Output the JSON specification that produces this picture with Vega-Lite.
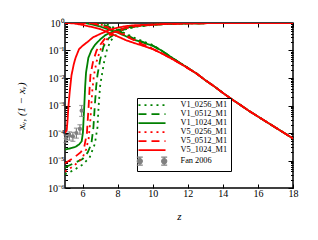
{
"$schema": "https://vega.github.io/schema/vega-lite/v6.json",
"width": 228, "height": 165,
"autosize": {"type": "none"},
"padding": {"left": 65, "top": 23, "right": 25, "bottom": 52},
"config": {
  "font": "Liberation Serif",
  "view": {"stroke": "black", "strokeWidth": 1.5},
  "axis": {"domain": false, "grid": false, "labelFont": "Liberation Serif", "labelFontSize": 10, "labelColor": "black", "tickColor": "black", "tickWidth": 1, "titleFont": "Liberation Serif", "titleFontWeight": "normal", "titleColor": "black", "labelFlush": false, "labelOverlap": false}
},
"datasets": {
"lines": [
{"s":"V1_0256_M1","b":"n","z":5,"v":3.16e-6},{"s":"V1_0256_M1","b":"n","z":5.5,"v":4.47e-6},{"s":"V1_0256_M1","b":"n","z":6,"v":7.08e-6},{"s":"V1_0256_M1","b":"n","z":6.4,"v":1.26e-5},{"s":"V1_0256_M1","b":"n","z":6.7,"v":3.98e-5},{"s":"V1_0256_M1","b":"n","z":6.85,"v":1.58e-4},{"s":"V1_0256_M1","b":"n","z":6.92,"v":1.0e-3},{"s":"V1_0256_M1","b":"n","z":7,"v":5.01e-3},{"s":"V1_0256_M1","b":"n","z":7.1,"v":0.0126},{"s":"V1_0256_M1","b":"n","z":7.25,"v":0.0447},{"s":"V1_0256_M1","b":"n","z":7.4,"v":0.112},{"s":"V1_0256_M1","b":"n","z":7.6,"v":0.224},{"s":"V1_0256_M1","b":"n","z":8,"v":0.417},{"s":"V1_0256_M1","b":"n","z":8.5,"v":0.603},{"s":"V1_0256_M1","b":"n","z":9,"v":0.724},{"s":"V1_0256_M1","b":"n","z":10,"v":0.861},{"s":"V1_0256_M1","b":"n","z":11,"v":0.929},{"s":"V1_0256_M1","b":"n","z":12,"v":0.964},{"s":"V1_0256_M1","b":"n","z":13,"v":0.98},{"s":"V1_0256_M1","b":"n","z":14,"v":0.991},{"s":"V1_0256_M1","b":"n","z":16,"v":0.998},{"s":"V1_0256_M1","b":"n","z":18,"v":0.9993},
{"s":"V1_0256_M1","b":"i","z":5,"v":1.0},{"s":"V1_0256_M1","b":"i","z":6.5,"v":0.99999},{"s":"V1_0256_M1","b":"i","z":7,"v":0.995},{"s":"V1_0256_M1","b":"i","z":7.25,"v":0.955},{"s":"V1_0256_M1","b":"i","z":7.5,"v":0.83},{"s":"V1_0256_M1","b":"i","z":8,"v":0.583},{"s":"V1_0256_M1","b":"i","z":8.5,"v":0.398},{"s":"V1_0256_M1","b":"i","z":9,"v":0.282},{"s":"V1_0256_M1","b":"i","z":9.5,"v":0.209},{"s":"V1_0256_M1","b":"i","z":10,"v":0.158},{"s":"V1_0256_M1","b":"i","z":10.5,"v":0.1},{"s":"V1_0256_M1","b":"i","z":11,"v":0.0603},{"s":"V1_0256_M1","b":"i","z":11.5,"v":0.0372},{"s":"V1_0256_M1","b":"i","z":12,"v":0.0234},{"s":"V1_0256_M1","b":"i","z":12.5,"v":0.0145},{"s":"V1_0256_M1","b":"i","z":13,"v":0.00832},{"s":"V1_0256_M1","b":"i","z":13.5,"v":0.00501},{"s":"V1_0256_M1","b":"i","z":14,"v":0.00288},{"s":"V1_0256_M1","b":"i","z":14.5,"v":0.0017},{"s":"V1_0256_M1","b":"i","z":15,"v":0.00105},{"s":"V1_0256_M1","b":"i","z":15.5,"v":6.31e-4},{"s":"V1_0256_M1","b":"i","z":16,"v":3.98e-4},{"s":"V1_0256_M1","b":"i","z":16.5,"v":2.51e-4},{"s":"V1_0256_M1","b":"i","z":17,"v":1.58e-4},{"s":"V1_0256_M1","b":"i","z":17.5,"v":1.0e-4},{"s":"V1_0256_M1","b":"i","z":18,"v":6.31e-5},
{"s":"V1_0512_M1","b":"n","z":5,"v":5.62e-6},{"s":"V1_0512_M1","b":"n","z":5.5,"v":7.94e-6},{"s":"V1_0512_M1","b":"n","z":6,"v":1.12e-5},{"s":"V1_0512_M1","b":"n","z":6.3,"v":2.0e-5},{"s":"V1_0512_M1","b":"n","z":6.5,"v":3.98e-5},{"s":"V1_0512_M1","b":"n","z":6.62,"v":1.58e-4},{"s":"V1_0512_M1","b":"n","z":6.7,"v":1.0e-3},{"s":"V1_0512_M1","b":"n","z":6.78,"v":5.01e-3},{"s":"V1_0512_M1","b":"n","z":6.85,"v":0.0126},{"s":"V1_0512_M1","b":"n","z":7,"v":0.0447},{"s":"V1_0512_M1","b":"n","z":7.2,"v":0.141},{"s":"V1_0512_M1","b":"n","z":7.5,"v":0.282},{"s":"V1_0512_M1","b":"n","z":8,"v":0.468},{"s":"V1_0512_M1","b":"n","z":8.5,"v":0.631},{"s":"V1_0512_M1","b":"n","z":9,"v":0.741},{"s":"V1_0512_M1","b":"n","z":10,"v":0.871},{"s":"V1_0512_M1","b":"n","z":11,"v":0.933},{"s":"V1_0512_M1","b":"n","z":12,"v":0.966},{"s":"V1_0512_M1","b":"n","z":13,"v":0.982},{"s":"V1_0512_M1","b":"n","z":14,"v":0.991},{"s":"V1_0512_M1","b":"n","z":16,"v":0.998},{"s":"V1_0512_M1","b":"n","z":18,"v":0.9993},
{"s":"V1_0512_M1","b":"i","z":5,"v":1.0},{"s":"V1_0512_M1","b":"i","z":6.5,"v":0.99996},{"s":"V1_0512_M1","b":"i","z":6.8,"v":0.995},{"s":"V1_0512_M1","b":"i","z":7,"v":0.955},{"s":"V1_0512_M1","b":"i","z":7.5,"v":0.718},{"s":"V1_0512_M1","b":"i","z":8,"v":0.532},{"s":"V1_0512_M1","b":"i","z":8.5,"v":0.372},{"s":"V1_0512_M1","b":"i","z":9,"v":0.257},{"s":"V1_0512_M1","b":"i","z":9.5,"v":0.2},{"s":"V1_0512_M1","b":"i","z":10,"v":0.151},{"s":"V1_0512_M1","b":"i","z":10.5,"v":0.1},{"s":"V1_0512_M1","b":"i","z":11,"v":0.0603},{"s":"V1_0512_M1","b":"i","z":11.5,"v":0.0372},{"s":"V1_0512_M1","b":"i","z":12,"v":0.0234},{"s":"V1_0512_M1","b":"i","z":12.5,"v":0.0145},{"s":"V1_0512_M1","b":"i","z":13,"v":0.00832},{"s":"V1_0512_M1","b":"i","z":13.5,"v":0.00501},{"s":"V1_0512_M1","b":"i","z":14,"v":0.00288},{"s":"V1_0512_M1","b":"i","z":14.5,"v":0.0017},{"s":"V1_0512_M1","b":"i","z":15,"v":0.00105},{"s":"V1_0512_M1","b":"i","z":15.5,"v":6.31e-4},{"s":"V1_0512_M1","b":"i","z":16,"v":3.98e-4},{"s":"V1_0512_M1","b":"i","z":16.5,"v":2.51e-4},{"s":"V1_0512_M1","b":"i","z":17,"v":1.58e-4},{"s":"V1_0512_M1","b":"i","z":17.5,"v":1.0e-4},{"s":"V1_0512_M1","b":"i","z":18,"v":6.31e-5},
{"s":"V1_1024_M1","b":"n","z":5,"v":2.51e-5},{"s":"V1_1024_M1","b":"n","z":5.3,"v":2.75e-5},{"s":"V1_1024_M1","b":"n","z":5.6,"v":3.16e-5},{"s":"V1_1024_M1","b":"n","z":5.8,"v":3.8e-5},{"s":"V1_1024_M1","b":"n","z":5.95,"v":5.01e-5},{"s":"V1_1024_M1","b":"n","z":6.02,"v":1.0e-4},{"s":"V1_1024_M1","b":"n","z":6.06,"v":3.16e-4},{"s":"V1_1024_M1","b":"n","z":6.1,"v":1.0e-3},{"s":"V1_1024_M1","b":"n","z":6.15,"v":5.01e-3},{"s":"V1_1024_M1","b":"n","z":6.2,"v":0.0158},{"s":"V1_1024_M1","b":"n","z":6.33,"v":0.0537},{"s":"V1_1024_M1","b":"n","z":6.5,"v":0.1},{"s":"V1_1024_M1","b":"n","z":6.7,"v":0.158},{"s":"V1_1024_M1","b":"n","z":7,"v":0.251},{"s":"V1_1024_M1","b":"n","z":7.3,"v":0.363},{"s":"V1_1024_M1","b":"n","z":7.6,"v":0.447},{"s":"V1_1024_M1","b":"n","z":8,"v":0.55},{"s":"V1_1024_M1","b":"n","z":8.5,"v":0.676},{"s":"V1_1024_M1","b":"n","z":9,"v":0.776},{"s":"V1_1024_M1","b":"n","z":10,"v":0.871},{"s":"V1_1024_M1","b":"n","z":11,"v":0.938},{"s":"V1_1024_M1","b":"n","z":12,"v":0.968},{"s":"V1_1024_M1","b":"n","z":13,"v":0.982},{"s":"V1_1024_M1","b":"n","z":14,"v":0.991},{"s":"V1_1024_M1","b":"n","z":16,"v":0.998},{"s":"V1_1024_M1","b":"n","z":18,"v":0.9993},
{"s":"V1_1024_M1","b":"i","z":5,"v":0.99997},{"s":"V1_1024_M1","b":"i","z":6,"v":0.9995},{"s":"V1_1024_M1","b":"i","z":6.2,"v":0.984},{"s":"V1_1024_M1","b":"i","z":6.5,"v":0.9},{"s":"V1_1024_M1","b":"i","z":7,"v":0.749},{"s":"V1_1024_M1","b":"i","z":7.5,"v":0.575},{"s":"V1_1024_M1","b":"i","z":8,"v":0.45},{"s":"V1_1024_M1","b":"i","z":8.5,"v":0.324},{"s":"V1_1024_M1","b":"i","z":9,"v":0.24},{"s":"V1_1024_M1","b":"i","z":9.5,"v":0.19},{"s":"V1_1024_M1","b":"i","z":10,"v":0.148},{"s":"V1_1024_M1","b":"i","z":10.5,"v":0.1},{"s":"V1_1024_M1","b":"i","z":11,"v":0.0603},{"s":"V1_1024_M1","b":"i","z":11.5,"v":0.0372},{"s":"V1_1024_M1","b":"i","z":12,"v":0.0234},{"s":"V1_1024_M1","b":"i","z":12.5,"v":0.0145},{"s":"V1_1024_M1","b":"i","z":13,"v":0.00832},{"s":"V1_1024_M1","b":"i","z":13.5,"v":0.00501},{"s":"V1_1024_M1","b":"i","z":14,"v":0.00288},{"s":"V1_1024_M1","b":"i","z":14.5,"v":0.0017},{"s":"V1_1024_M1","b":"i","z":15,"v":0.00105},{"s":"V1_1024_M1","b":"i","z":15.5,"v":6.31e-4},{"s":"V1_1024_M1","b":"i","z":16,"v":3.98e-4},{"s":"V1_1024_M1","b":"i","z":16.5,"v":2.51e-4},{"s":"V1_1024_M1","b":"i","z":17,"v":1.58e-4},{"s":"V1_1024_M1","b":"i","z":17.5,"v":1.0e-4},{"s":"V1_1024_M1","b":"i","z":18,"v":6.31e-5},
{"s":"V5_0256_M1","b":"n","z":5,"v":3.98e-6},{"s":"V5_0256_M1","b":"n","z":5.5,"v":6.31e-6},{"s":"V5_0256_M1","b":"n","z":6,"v":1.26e-5},{"s":"V5_0256_M1","b":"n","z":6.2,"v":2.51e-5},{"s":"V5_0256_M1","b":"n","z":6.35,"v":6.31e-5},{"s":"V5_0256_M1","b":"n","z":6.45,"v":3.16e-4},{"s":"V5_0256_M1","b":"n","z":6.5,"v":1.0e-3},{"s":"V5_0256_M1","b":"n","z":6.55,"v":3.16e-3},{"s":"V5_0256_M1","b":"n","z":6.65,"v":0.0126},{"s":"V5_0256_M1","b":"n","z":6.8,"v":0.0398},{"s":"V5_0256_M1","b":"n","z":7,"v":0.1},{"s":"V5_0256_M1","b":"n","z":7.2,"v":0.178},{"s":"V5_0256_M1","b":"n","z":7.5,"v":0.316},{"s":"V5_0256_M1","b":"n","z":8,"v":0.501},{"s":"V5_0256_M1","b":"n","z":8.5,"v":0.646},{"s":"V5_0256_M1","b":"n","z":9,"v":0.759},{"s":"V5_0256_M1","b":"n","z":10,"v":0.871},{"s":"V5_0256_M1","b":"n","z":11,"v":0.933},{"s":"V5_0256_M1","b":"n","z":12,"v":0.964},{"s":"V5_0256_M1","b":"n","z":13,"v":0.98},{"s":"V5_0256_M1","b":"n","z":14,"v":0.991},{"s":"V5_0256_M1","b":"n","z":16,"v":0.998},{"s":"V5_0256_M1","b":"n","z":18,"v":0.9993},
{"s":"V5_0256_M1","b":"i","z":5,"v":1.0},{"s":"V5_0256_M1","b":"i","z":6.5,"v":0.999},{"s":"V5_0256_M1","b":"i","z":6.8,"v":0.96},{"s":"V5_0256_M1","b":"i","z":7,"v":0.9},{"s":"V5_0256_M1","b":"i","z":7.5,"v":0.684},{"s":"V5_0256_M1","b":"i","z":8,"v":0.5},{"s":"V5_0256_M1","b":"i","z":8.5,"v":0.354},{"s":"V5_0256_M1","b":"i","z":9,"v":0.24},{"s":"V5_0256_M1","b":"i","z":9.5,"v":0.166},{"s":"V5_0256_M1","b":"i","z":10,"v":0.117},{"s":"V5_0256_M1","b":"i","z":10.5,"v":0.0794},{"s":"V5_0256_M1","b":"i","z":11,"v":0.0537},{"s":"V5_0256_M1","b":"i","z":11.5,"v":0.0355},{"s":"V5_0256_M1","b":"i","z":12,"v":0.0229},{"s":"V5_0256_M1","b":"i","z":12.5,"v":0.0145},{"s":"V5_0256_M1","b":"i","z":13,"v":0.00832},{"s":"V5_0256_M1","b":"i","z":13.5,"v":0.00501},{"s":"V5_0256_M1","b":"i","z":14,"v":0.00288},{"s":"V5_0256_M1","b":"i","z":14.5,"v":0.0017},{"s":"V5_0256_M1","b":"i","z":15,"v":0.00105},{"s":"V5_0256_M1","b":"i","z":15.5,"v":6.31e-4},{"s":"V5_0256_M1","b":"i","z":16,"v":3.98e-4},{"s":"V5_0256_M1","b":"i","z":16.5,"v":2.51e-4},{"s":"V5_0256_M1","b":"i","z":17,"v":1.58e-4},{"s":"V5_0256_M1","b":"i","z":17.5,"v":1.0e-4},{"s":"V5_0256_M1","b":"i","z":18,"v":6.31e-5},
{"s":"V5_0512_M1","b":"n","z":5,"v":7.94e-6},{"s":"V5_0512_M1","b":"n","z":5.5,"v":1.26e-5},{"s":"V5_0512_M1","b":"n","z":5.9,"v":2.0e-5},{"s":"V5_0512_M1","b":"n","z":6.1,"v":3.16e-5},{"s":"V5_0512_M1","b":"n","z":6.25,"v":1.0e-4},{"s":"V5_0512_M1","b":"n","z":6.3,"v":3.16e-4},{"s":"V5_0512_M1","b":"n","z":6.35,"v":1.0e-3},{"s":"V5_0512_M1","b":"n","z":6.4,"v":3.98e-3},{"s":"V5_0512_M1","b":"n","z":6.45,"v":0.0126},{"s":"V5_0512_M1","b":"n","z":6.6,"v":0.0398},{"s":"V5_0512_M1","b":"n","z":6.8,"v":0.1},{"s":"V5_0512_M1","b":"n","z":7,"v":0.158},{"s":"V5_0512_M1","b":"n","z":7.3,"v":0.282},{"s":"V5_0512_M1","b":"n","z":7.6,"v":0.398},{"s":"V5_0512_M1","b":"n","z":8,"v":0.537},{"s":"V5_0512_M1","b":"n","z":8.5,"v":0.676},{"s":"V5_0512_M1","b":"n","z":9,"v":0.776},{"s":"V5_0512_M1","b":"n","z":10,"v":0.871},{"s":"V5_0512_M1","b":"n","z":11,"v":0.938},{"s":"V5_0512_M1","b":"n","z":12,"v":0.966},{"s":"V5_0512_M1","b":"n","z":13,"v":0.982},{"s":"V5_0512_M1","b":"n","z":14,"v":0.991},{"s":"V5_0512_M1","b":"n","z":16,"v":0.998},{"s":"V5_0512_M1","b":"n","z":18,"v":0.9993},
{"s":"V5_0512_M1","b":"i","z":5,"v":1.0},{"s":"V5_0512_M1","b":"i","z":6,"v":0.99997},{"s":"V5_0512_M1","b":"i","z":6.3,"v":0.9997},{"s":"V5_0512_M1","b":"i","z":6.5,"v":0.98},{"s":"V5_0512_M1","b":"i","z":7,"v":0.842},{"s":"V5_0512_M1","b":"i","z":7.5,"v":0.645},{"s":"V5_0512_M1","b":"i","z":8,"v":0.463},{"s":"V5_0512_M1","b":"i","z":8.5,"v":0.324},{"s":"V5_0512_M1","b":"i","z":9,"v":0.224},{"s":"V5_0512_M1","b":"i","z":9.5,"v":0.158},{"s":"V5_0512_M1","b":"i","z":10,"v":0.115},{"s":"V5_0512_M1","b":"i","z":10.5,"v":0.0794},{"s":"V5_0512_M1","b":"i","z":11,"v":0.0537},{"s":"V5_0512_M1","b":"i","z":11.5,"v":0.0355},{"s":"V5_0512_M1","b":"i","z":12,"v":0.0229},{"s":"V5_0512_M1","b":"i","z":12.5,"v":0.0145},{"s":"V5_0512_M1","b":"i","z":13,"v":0.00832},{"s":"V5_0512_M1","b":"i","z":13.5,"v":0.00501},{"s":"V5_0512_M1","b":"i","z":14,"v":0.00288},{"s":"V5_0512_M1","b":"i","z":14.5,"v":0.0017},{"s":"V5_0512_M1","b":"i","z":15,"v":0.00105},{"s":"V5_0512_M1","b":"i","z":15.5,"v":6.31e-4},{"s":"V5_0512_M1","b":"i","z":16,"v":3.98e-4},{"s":"V5_0512_M1","b":"i","z":16.5,"v":2.51e-4},{"s":"V5_0512_M1","b":"i","z":17,"v":1.58e-4},{"s":"V5_0512_M1","b":"i","z":17.5,"v":1.0e-4},{"s":"V5_0512_M1","b":"i","z":18,"v":6.31e-5},
{"s":"V5_1024_M1","b":"n","z":5,"v":1.0e-4},{"s":"V5_1024_M1","b":"n","z":5.1,"v":1.26e-4},{"s":"V5_1024_M1","b":"n","z":5.15,"v":3.16e-4},{"s":"V5_1024_M1","b":"n","z":5.2,"v":1.0e-3},{"s":"V5_1024_M1","b":"n","z":5.27,"v":3.16e-3},{"s":"V5_1024_M1","b":"n","z":5.37,"v":0.0126},{"s":"V5_1024_M1","b":"n","z":5.5,"v":0.0316},{"s":"V5_1024_M1","b":"n","z":5.6,"v":0.0537},{"s":"V5_1024_M1","b":"n","z":5.8,"v":0.112},{"s":"V5_1024_M1","b":"n","z":6,"v":0.148},{"s":"V5_1024_M1","b":"n","z":6.3,"v":0.209},{"s":"V5_1024_M1","b":"n","z":6.6,"v":0.302},{"s":"V5_1024_M1","b":"n","z":7,"v":0.398},{"s":"V5_1024_M1","b":"n","z":7.5,"v":0.55},{"s":"V5_1024_M1","b":"n","z":8,"v":0.676},{"s":"V5_1024_M1","b":"n","z":8.5,"v":0.776},{"s":"V5_1024_M1","b":"n","z":9,"v":0.832},{"s":"V5_1024_M1","b":"n","z":10,"v":0.874},{"s":"V5_1024_M1","b":"n","z":11,"v":0.944},{"s":"V5_1024_M1","b":"n","z":12,"v":0.968},{"s":"V5_1024_M1","b":"n","z":13,"v":0.982},{"s":"V5_1024_M1","b":"n","z":14,"v":0.991},{"s":"V5_1024_M1","b":"n","z":16,"v":0.998},{"s":"V5_1024_M1","b":"n","z":18,"v":0.9993},
{"s":"V5_1024_M1","b":"i","z":5,"v":0.9999},{"s":"V5_1024_M1","b":"i","z":5.5,"v":0.968},{"s":"V5_1024_M1","b":"i","z":6,"v":0.851},{"s":"V5_1024_M1","b":"i","z":6.5,"v":0.724},{"s":"V5_1024_M1","b":"i","z":7,"v":0.603},{"s":"V5_1024_M1","b":"i","z":7.5,"v":0.447},{"s":"V5_1024_M1","b":"i","z":8,"v":0.324},{"s":"V5_1024_M1","b":"i","z":8.5,"v":0.234},{"s":"V5_1024_M1","b":"i","z":9,"v":0.182},{"s":"V5_1024_M1","b":"i","z":9.5,"v":0.145},{"s":"V5_1024_M1","b":"i","z":10,"v":0.112},{"s":"V5_1024_M1","b":"i","z":10.5,"v":0.0794},{"s":"V5_1024_M1","b":"i","z":11,"v":0.0537},{"s":"V5_1024_M1","b":"i","z":11.5,"v":0.0355},{"s":"V5_1024_M1","b":"i","z":12,"v":0.0229},{"s":"V5_1024_M1","b":"i","z":12.5,"v":0.0145},{"s":"V5_1024_M1","b":"i","z":13,"v":0.00832},{"s":"V5_1024_M1","b":"i","z":13.5,"v":0.00501},{"s":"V5_1024_M1","b":"i","z":14,"v":0.00288},{"s":"V5_1024_M1","b":"i","z":14.5,"v":0.0017},{"s":"V5_1024_M1","b":"i","z":15,"v":0.00105},{"s":"V5_1024_M1","b":"i","z":15.5,"v":6.31e-4},{"s":"V5_1024_M1","b":"i","z":16,"v":3.98e-4},{"s":"V5_1024_M1","b":"i","z":16.5,"v":2.51e-4},{"s":"V5_1024_M1","b":"i","z":17,"v":1.58e-4},{"s":"V5_1024_M1","b":"i","z":17.5,"v":1.0e-4},{"s":"V5_1024_M1","b":"i","z":18,"v":6.31e-5}
],
"fan": [
{"z":5.05,"v":6.3e-5,"lo":4.5e-5,"hi":8.5e-5},
{"z":5.25,"v":8.0e-5,"lo":5.5e-5,"hi":1.1e-4},
{"z":5.45,"v":7.5e-5,"lo":5.0e-5,"hi":1.05e-4},
{"z":5.65,"v":1.0e-4,"lo":6.5e-5,"hi":1.5e-4},
{"z":5.85,"v":1.4e-4,"lo":9.0e-5,"hi":2.0e-4},
{"z":5.95,"v":6.5e-4,"lo":4.0e-4,"hi":1.0e-3}
]
},
"resolve": {"axis": {"x": "independent", "y": "independent"}},
"layer": [
{
 "data": {"name": "lines"},
 "mark": {"type": "line", "strokeWidth": 1.8, "clip": true},
 "encoding": {
  "x": {"field": "z", "type": "quantitative", "scale": {"domain": [5, 18], "nice": false, "zero": false},
        "axis": {"orient": "bottom", "values": [6,8,10,12,14,16,18], "tickSize": -4, "labelPadding": 4, "title": "z", "titleFontStyle": "italic", "titleFontSize": 11, "titleX": 114, "titleY": 28.7, "titleBaseline": "middle", "titleAlign": "center"}},
  "y": {"field": "v", "type": "quantitative", "scale": {"type": "log", "domain": [1e-6, 1], "nice": false},
        "axis": {"orient": "left",
          "values": [1e-6,2e-6,3e-6,4e-6,5e-6,6e-6,7e-6,8e-6,9e-6,1e-5,2e-5,3e-5,4e-5,5e-5,6e-5,7e-5,8e-5,9e-5,1e-4,2e-4,3e-4,4e-4,5e-4,6e-4,7e-4,8e-4,9e-4,1e-3,2e-3,3e-3,4e-3,5e-3,6e-3,7e-3,8e-3,9e-3,0.01,0.02,0.03,0.04,0.05,0.06,0.07,0.08,0.09,0.1,0.2,0.3,0.4,0.5,0.6,0.7,0.8,0.9,1],
          "tickSize": {"condition": {"test": "abs(log(datum.value)/LN10 - round(log(datum.value)/LN10)) < 0.001", "value": -5}, "value": -2.5},
          "labelExpr": "abs(log(datum.value)/LN10 - round(log(datum.value)/LN10)) < 0.001 ? '10' + ['⁰','⁻¹','⁻²','⁻³','⁻⁴','⁻⁵','⁻⁶'][-round(log(datum.value)/LN10)] : ''",
          "labelPadding": 6,
          "title": "xᵥ, (1 − xᵥ)", "titleFontStyle": "italic", "titleFontSize": 11, "titleX": -44, "titleY": 82.5, "titleBaseline": "middle", "titleAlign": "center", "titleAngle": 270}},
  "color": {"field": "s", "type": "nominal",
    "scale": {"domain": ["V1_0256_M1","V1_0512_M1","V1_1024_M1","V5_0256_M1","V5_0512_M1","V5_1024_M1","Fan 2006"], "range": ["#008000","#008000","#008000","#ff0000","#ff0000","#ff0000","#808080"]},
    "legend": {"orient": "none", "legendX": 72, "legendY": 75, "title": null, "strokeColor": "black", "fillColor": "white", "padding": 3,
      "symbolType": "M-2.85,0H2.85", "symbolSize": 90, "symbolStrokeWidth": 1.8, "symbolOffset": 7.85, "rowPadding": 0,
      "labelFont": "Liberation Serif", "labelFontSize": 8.3, "labelColor": "black", "labelOffset": 24.4,
      "encode": {"symbols": {"update": {
        "shape": {"signal": "datum.value === 'Fan 2006' ? 'M-2.57,-0.84V0.84M-3.2,-0.84H-1.94M-3.2,0.84H-1.94M2.57,-0.84V0.84M1.94,-0.84H3.2M1.94,0.84H3.2M-3.1,0A0.53,0.53 0 1,0 -2.04,0A0.53,0.53 0 1,0 -3.1,0ZM2.04,0A0.53,0.53 0 1,0 3.1,0A0.53,0.53 0 1,0 2.04,0Z' : 'M-2.85,0H2.85'"},
        "fill": {"signal": "datum.value === 'Fan 2006' ? '#808080' : 'transparent'"},
        "strokeWidth": {"signal": "datum.value === 'Fan 2006' ? 1.2 : 1.8"}
      }}}}},
  "strokeDash": {"field": "s", "type": "nominal",
    "scale": {"domain": ["V1_0256_M1","V1_0512_M1","V1_1024_M1","V5_0256_M1","V5_0512_M1","V5_1024_M1","Fan 2006"], "range": [[2,4],[8,5],[1,0],[2,4],[8,5],[1,0],[1,0]]}},
  "detail": {"field": "b"}
 }
},
{
 "data": {"name": "fan"},
 "mark": {"type": "rule", "color": "#808080", "strokeWidth": 1.2},
 "encoding": {"x": {"field": "z", "type": "quantitative", "axis": null}, "y": {"field": "lo", "type": "quantitative", "axis": null}, "y2": {"field": "hi"}}
},
{
 "data": {"name": "fan"},
 "mark": {"type": "tick", "orient": "horizontal", "color": "#808080", "size": 5, "thickness": 1.2},
 "encoding": {"x": {"field": "z", "type": "quantitative", "axis": null}, "y": {"field": "lo", "type": "quantitative", "axis": null}}
},
{
 "data": {"name": "fan"},
 "mark": {"type": "tick", "orient": "horizontal", "color": "#808080", "size": 5, "thickness": 1.2},
 "encoding": {"x": {"field": "z", "type": "quantitative", "axis": null}, "y": {"field": "hi", "type": "quantitative", "axis": null}}
},
{
 "data": {"name": "fan"},
 "mark": {"type": "point", "filled": true, "color": "#808080", "size": 18, "opacity": 1},
 "encoding": {
  "x": {"field": "z", "type": "quantitative", "axis": {"orient": "top", "values": [6,8,10,12,14,16,18], "labels": false, "tickSize": -4, "title": null}},
  "y": {"field": "v", "type": "quantitative", "axis": {"orient": "right", "labels": false, "title": null,
          "values": [1e-6,2e-6,3e-6,4e-6,5e-6,6e-6,7e-6,8e-6,9e-6,1e-5,2e-5,3e-5,4e-5,5e-5,6e-5,7e-5,8e-5,9e-5,1e-4,2e-4,3e-4,4e-4,5e-4,6e-4,7e-4,8e-4,9e-4,1e-3,2e-3,3e-3,4e-3,5e-3,6e-3,7e-3,8e-3,9e-3,0.01,0.02,0.03,0.04,0.05,0.06,0.07,0.08,0.09,0.1,0.2,0.3,0.4,0.5,0.6,0.7,0.8,0.9,1],
          "tickSize": {"condition": {"test": "abs(log(datum.value)/LN10 - round(log(datum.value)/LN10)) < 0.001", "value": -5}, "value": -2.5}}}
 }
}
]
}
